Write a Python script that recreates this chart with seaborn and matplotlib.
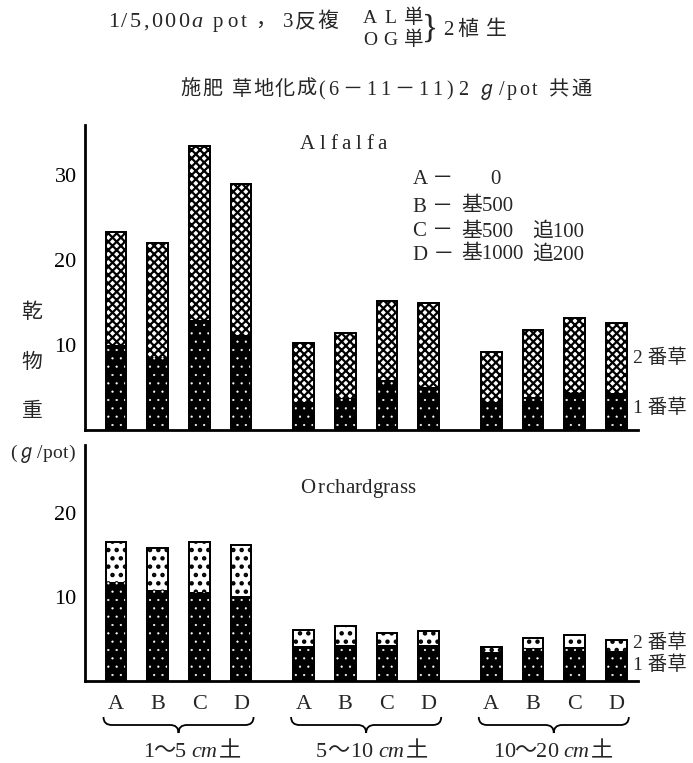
import numpy as np
import matplotlib
matplotlib.use("Agg")
import matplotlib.pyplot as plt
import seaborn as sns
from matplotlib.path import Path
from matplotlib.patches import PathPatch
from matplotlib.transforms import blended_transform_factory

# ---------------- data ----------------
soil_layers = ["1～5", "5～10", "10～20"]
treatments = ["A", "B", "C", "D"]
basal = [0, 500, 500, 1000]
topdress = [None, None, 100, 200]

# dry weight (g/pot), 1st cut and 2nd cut, order: layer x treatment
alfalfa_cut1 = [10.0, 8.6, 12.9, 11.2, 3.3, 3.8, 5.9, 5.1, 3.3, 3.9, 4.5, 4.3]
alfalfa_cut2 = [13.3, 13.4, 20.5, 17.7, 6.9, 7.6, 9.3, 9.8, 5.9, 7.9, 8.7, 8.3]
orchard_cut1 = [11.8, 10.8, 10.6, 10.1, 4.2, 4.3, 4.3, 4.3, 3.4, 3.9, 4.1, 3.6]
orchard_cut2 = [4.7, 5.0, 5.9, 6.1, 1.9, 2.3, 1.4, 1.7, 0.6, 1.2, 1.4, 1.3]

alfalfa_yticks = [10, 20, 30]
orchard_yticks = [10, 20]
cut_labels = ["1 番草", "2 番草"]

# ---------------- style ----------------
sns.set_style("white")
plt.rcParams["font.family"] = ["Liberation Serif", "Noto Sans CJK JP", "DejaVu Sans"]
plt.rcParams["hatch.linewidth"] = 1.2

W, H = 693, 763
fig = plt.figure(figsize=(W / 100, H / 100), dpi=100)
fig.patch.set_facecolor("white")


def fx(px):
    return px / W


def fy(py):
    return 1 - py / H


ax_top = fig.add_axes([fx(85), fy(430), fx(638) - fx(85), fy(125) - fy(430)])
ax_bot = fig.add_axes([fx(85), fy(681), fx(638) - fx(85), fy(445) - fy(681)])

n_t = len(treatments)
gap = 1.5
pos = np.array([g * (n_t - 1 + gap) + i
                for g in range(len(soil_layers)) for i in range(n_t)], dtype=float)


def set_hlw(patches, lw):
    for p in patches:
        if hasattr(p, "set_hatch_linewidth"):
            p.set_hatch_linewidth(lw)


def draw_panel(ax, cut1, cut2, hatch2, hlw2, ymax, yticks):
    cut1 = np.asarray(cut1, dtype=float)
    total = cut1 + np.asarray(cut2, dtype=float)
    n0 = len(ax.patches)
    sns.barplot(x=pos, y=total, native_scale=True, width=0.5, color="white",
                edgecolor="black", linewidth=1.3, hatch=hatch2, errorbar=None,
                saturation=1, ax=ax)
    set_hlw(ax.patches[n0:], hlw2)
    n0 = len(ax.patches)
    sns.barplot(x=pos, y=cut1, native_scale=True, width=0.5, color="black",
                edgecolor="white", linewidth=0, hatch="..", errorbar=None,
                saturation=1, ax=ax)
    set_hlw(ax.patches[n0:], 0.35)
    sns.barplot(x=pos, y=total, native_scale=True, width=0.5, fill=False,
                color="black", linewidth=1.3, errorbar=None, ax=ax)
    ax.set_xlim(-0.743, 12.52)
    ax.set_ylim(0, ymax)
    ax.set_yticks(yticks)
    ax.set_xlabel("")
    ax.set_ylabel("")
    for s in ["top", "right"]:
        ax.spines[s].set_visible(False)
    for s in ["left", "bottom"]:
        ax.spines[s].set_linewidth(2.0)
        ax.spines[s].set_color("black")
    ax.tick_params(axis="y", direction="in", length=6, width=1.6, pad=6,
                   labelsize=16, colors="black")
    ax.set_facecolor("none")


draw_panel(ax_top, alfalfa_cut1, alfalfa_cut2, "xxxx", 1.6, 35.9, alfalfa_yticks)
draw_panel(ax_bot, orchard_cut1, orchard_cut2, "..", 2.0, 28.1, orchard_yticks)

ax_top.set_xticks([])
ax_bot.set_xticks(pos, labels=treatments * len(soil_layers))
ax_bot.tick_params(axis="x", length=0, pad=10, labelsize=16)

renderer = fig.canvas.get_renderer()


def spaced(text, x0, x1, ybase, size, styles=None):
    """Spread the characters of text evenly between x0 and x1 (pixels)."""
    items = []
    total = 0.0
    for i, c in enumerate(text):
        st = styles[i] if styles else "normal"
        t = fig.text(0, fy(ybase), c, fontsize=size, style=st,
                     ha="left", va="baseline")
        w = t.get_window_extent(renderer).width
        items.append((t, w))
        total += w
    g = (x1 - x0 - total) / max(len(text) - 1, 1)
    x = x0
    for t, w in items:
        t.set_x(fx(x))
        x += w + g


# header line 1
spaced("1/5,000", 108, 189, 27, 16)
spaced("a", 191, 202, 27, 16, styles=["italic"])
spaced("pot", 213, 247, 27, 15)
fig.text(fx(255), fy(27), "，", fontsize=15, ha="left", va="baseline")
spaced("3反複", 283, 338, 27, 15)
spaced("AL単", 363, 423, 23, 14)
spaced("OG単", 363, 423, 45, 14)
fig.text(fx(430), fy(29), "}", fontsize=24, ha="center", va="center")
fig.text(fx(443), fy(35), "2", fontsize=15, ha="left", va="baseline")
spaced("植生", 457, 507, 35, 15)

# header line 2
spaced("施肥", 180, 222, 95, 14.5)
spaced("草地化成", 232, 316, 95, 14.5)
spaced("(6－11－11)", 318, 453, 95, 14.5)
spaced("2", 458, 468, 95, 14.5)
spaced("ℊ/pot", 477, 537, 95, 14.5)
spaced("共通", 548, 592, 95, 14.5)

# panel titles
spaced("Alfalfa", 300, 387, 149, 15)
spaced("O", 300, 313, 493, 15)
spaced("rchardgrass", 318, 415, 493, 15)

# treatment key
key_y = [180, 207, 232, 255]
for t, b, d, yy in zip(treatments, basal, topdress, key_y):
    fig.text(fx(413), fy(yy), t + " －", fontsize=15, ha="left", va="center")
    if b == 0:
        fig.text(fx(490), fy(yy), str(b), fontsize=15, ha="left", va="center")
    else:
        fig.text(fx(461), fy(yy), "基" + str(b), fontsize=15, ha="left", va="center")
    if d is not None:
        fig.text(fx(532), fy(yy), "追" + str(d), fontsize=15, ha="left", va="center")

# y-axis label
for ch, yy in zip("乾物重", [313, 363, 413]):
    fig.text(fx(32), fy(yy), ch, fontsize=15, ha="center", va="center")
spaced("(ℊ/pot)", 10, 75, 458, 14)

# cut labels on the right
for lab, yy in zip(cut_labels, [408, 358]):
    fig.text(fx(633), fy(yy), lab, fontsize=14, ha="left", va="center")
for lab, yy in zip(cut_labels, [665, 643]):
    fig.text(fx(633), fy(yy), lab, fontsize=14, ha="left", va="center")

# braces and soil-layer labels
btrans = blended_transform_factory(ax_bot.transData, fig.transFigure)
half = 1.8
r = 0.2
ytop, ymid, ytip = fy(717), fy(725), fy(733)
label_spans = [(143, 241), (316, 428), (493, 613)]
for g, layer in enumerate(soil_layers):
    xs = pos[g * n_t:(g + 1) * n_t]
    xc = xs.mean()
    x0, x1 = xc - half, xc + half
    verts = [(x0, ytop), (x0, ymid), (x0 + r, ymid),
             (xc - r, ymid), (xc, ymid), (xc, ytip),
             (xc, ymid), (xc + r, ymid),
             (x1 - r, ymid), (x1, ymid), (x1, ytop)]
    codes = [Path.MOVETO, Path.CURVE3, Path.CURVE3,
             Path.LINETO, Path.CURVE3, Path.CURVE3,
             Path.CURVE3, Path.CURVE3,
             Path.LINETO, Path.CURVE3, Path.CURVE3]
    patch = PathPatch(Path(verts, codes), transform=btrans, fill=False,
                      edgecolor="black", linewidth=1.3, clip_on=False)
    fig.add_artist(patch)
    lx0, lx1 = label_spans[g]
    t_do = fig.text(fx(lx1), fy(757), "土", fontsize=16, ha="right", va="baseline")
    w_do = t_do.get_window_extent(renderer).width
    t_cm = fig.text(fx(lx1 - w_do - 1), fy(757), "cm", fontsize=16,
                    style="italic", ha="right", va="baseline")
    w_cm = t_cm.get_window_extent(renderer).width
    spaced(layer, lx0, lx1 - w_do - w_cm - 7, 757, 16)

fig.savefig("out.png", dpi=100, facecolor="white")
